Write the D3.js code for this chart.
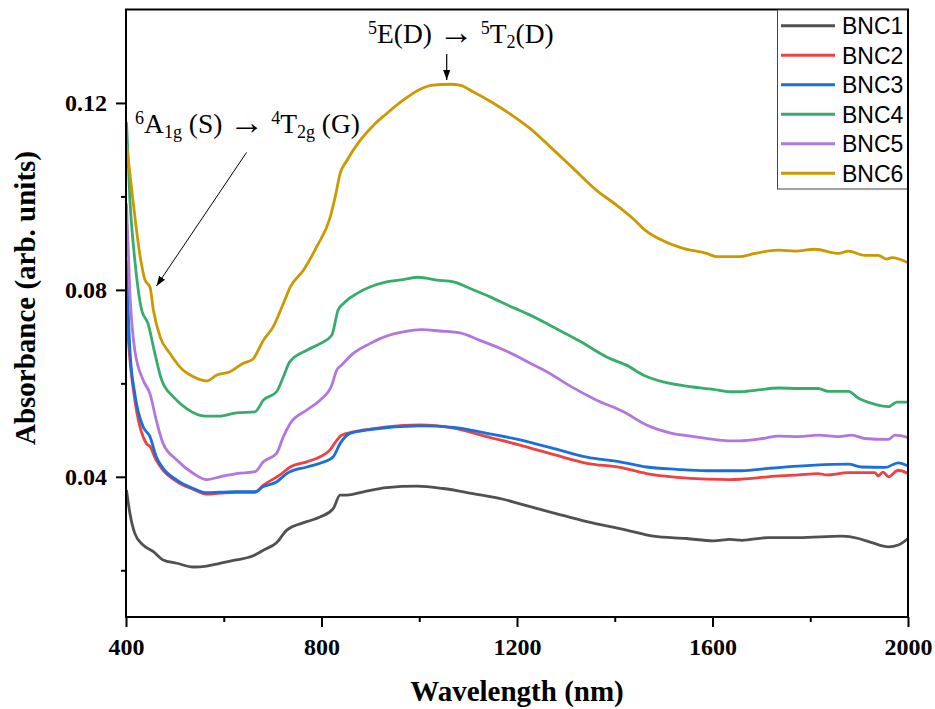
<!DOCTYPE html>
<html>
<head>
<meta charset="utf-8">
<script src="https://cdn.jsdelivr.net/npm/d3@7"></script>
<style>
  html, body { margin: 0; padding: 0; background: #fff; }
  svg { display: block; }
</style>
</head>
<body>
<svg id="chart" width="935" height="709"></svg>
<script>
// ---------- data ----------
const seriesNames = ["BNC1", "BNC2", "BNC3", "BNC4", "BNC5", "BNC6"];
const seriesColors = ["#515151", "#F14040", "#1A6FDF", "#37AD6B", "#B177DE", "#CC9900"];

const BNC1 = [[401,0.0372],[408,0.0322],[418,0.0279],[435,0.0254],[456,0.0240],[476,0.0222],[504,0.0215],[538,0.0207],[565,0.0209],[592,0.0215],[626,0.0222],[660,0.0231],[681,0.0243],[708,0.0259],[729,0.0286],[770,0.0304],[797,0.0314],[824,0.0332],[838,0.0361],[852,0.0361],[886,0.0368],[933,0.0377],[995,0.0380],[1049,0.0375],[1110,0.0364],[1172,0.0352],[1206,0.0342],[1227,0.0336],[1274,0.0323],[1343,0.0304],[1424,0.0286],[1479,0.0273],[1547,0.0268],[1602,0.0263],[1636,0.0266],[1660,0.0264],[1714,0.0270],[1776,0.0270],[1864,0.0273],[1899,0.0268],[1926,0.0259],[1960,0.0250],[1980,0.0254],[2000,0.0268]];

const BNC2 = [[401,0.0750],[408,0.0650],[418,0.0565],[442,0.0471],[449,0.0465],[462,0.0435],[476,0.0414],[504,0.0390],[538,0.0373],[565,0.0363],[592,0.0365],[626,0.0367],[664,0.0367],[681,0.0382],[715,0.0404],[736,0.0421],[770,0.0432],[797,0.0443],[817,0.0457],[831,0.0478],[841,0.0489],[865,0.0496],[899,0.0502],[933,0.0507],[1001,0.0511],[1070,0.0504],[1138,0.0486],[1206,0.0468],[1274,0.0448],[1343,0.0429],[1411,0.0420],[1465,0.0407],[1527,0.0399],[1588,0.0395],[1636,0.0394],[1660,0.0395],[1714,0.0400],[1776,0.0404],[1816,0.0407],[1833,0.0404],[1878,0.0409],[1932,0.0409],[1939,0.0402],[1949,0.0410],[1960,0.0400],[1980,0.0414],[2000,0.0407]];

const BNC3 = [[401,0.0863],[408,0.0671],[418,0.0578],[435,0.0507],[449,0.0486],[462,0.0443],[476,0.0418],[504,0.0393],[538,0.0375],[565,0.0366],[592,0.0367],[626,0.0368],[664,0.0368],[681,0.0379],[708,0.0389],[729,0.0407],[770,0.0421],[797,0.0429],[824,0.0443],[838,0.0471],[858,0.0493],[899,0.0501],[1001,0.0509],[1070,0.0506],[1138,0.0493],[1206,0.0479],[1274,0.0461],[1343,0.0442],[1411,0.0432],[1465,0.0421],[1527,0.0416],[1588,0.0413],[1636,0.0413],[1660,0.0413],[1714,0.0418],[1776,0.0423],[1810,0.0425],[1878,0.0427],[1905,0.0421],[1953,0.0420],[1980,0.0430],[2000,0.0423]];

const BNC4 = [[401,0.1159],[408,0.0992],[418,0.0864],[432,0.0757],[445,0.0728],[459,0.0664],[473,0.0607],[497,0.0571],[524,0.0546],[562,0.0530],[592,0.0530],[626,0.0537],[664,0.0539],[681,0.0564],[708,0.0582],[722,0.0614],[735,0.0646],[770,0.0671],[797,0.0685],[821,0.0703],[834,0.0757],[845,0.0771],[872,0.0792],[899,0.0806],[933,0.0817],[967,0.0822],[998,0.0827],[1036,0.0821],[1070,0.0817],[1104,0.0803],[1145,0.0785],[1186,0.0765],[1206,0.0756],[1227,0.0746],[1268,0.0724],[1329,0.0690],[1390,0.0653],[1424,0.0639],[1458,0.0618],[1499,0.0603],[1547,0.0594],[1602,0.0587],[1636,0.0582],[1655,0.0582],[1687,0.0585],[1735,0.0590],[1776,0.0589],[1816,0.0589],[1837,0.0583],[1878,0.0583],[1899,0.0568],[1926,0.0557],[1960,0.0550],[1977,0.0560],[2000,0.0560]];

const BNC5 = [[401,0.0985],[408,0.0792],[418,0.0671],[435,0.0607],[449,0.0578],[462,0.0521],[476,0.0471],[504,0.0436],[538,0.0407],[565,0.0394],[592,0.0400],[626,0.0407],[664,0.0411],[681,0.0432],[708,0.0450],[722,0.0486],[736,0.0514],[770,0.0543],[797,0.0564],[821,0.0596],[831,0.0628],[841,0.0639],[865,0.0664],[899,0.0685],[933,0.0701],[967,0.0710],[1005,0.0715],[1042,0.0712],[1083,0.0708],[1124,0.0692],[1165,0.0675],[1206,0.0655],[1227,0.0643],[1261,0.0625],[1309,0.0594],[1363,0.0564],[1418,0.0539],[1465,0.0511],[1513,0.0494],[1561,0.0486],[1609,0.0479],[1636,0.0477],[1655,0.0477],[1703,0.0482],[1735,0.0487],[1776,0.0486],[1816,0.0489],[1858,0.0486],[1885,0.0489],[1912,0.0482],[1960,0.0480],[1973,0.0489],[2000,0.0484]];

const BNC6 = [[401,0.1113],[415,0.0985],[429,0.0871],[439,0.0821],[449,0.0806],[456,0.0757],[470,0.0699],[490,0.0664],[517,0.0628],[538,0.0614],[565,0.0605],[586,0.0618],[613,0.0625],[640,0.0643],[660,0.0652],[667,0.0664],[681,0.0692],[701,0.0721],[722,0.0771],[736,0.0806],[763,0.0842],[790,0.0892],[817,0.0953],[828,0.0999],[838,0.1049],[852,0.1077],[879,0.1120],[906,0.1152],[933,0.1177],[967,0.1206],[1001,0.1229],[1028,0.1238],[1063,0.1240],[1083,0.1238],[1110,0.1224],[1151,0.1200],[1192,0.1172],[1226,0.1146],[1268,0.1106],[1315,0.1060],[1363,0.1013],[1404,0.0981],[1441,0.0949],[1462,0.0928],[1499,0.0905],[1540,0.0889],[1588,0.0878],[1609,0.0871],[1636,0.0871],[1655,0.0871],[1687,0.0878],[1735,0.0885],[1769,0.0883],[1810,0.0887],[1858,0.0878],[1878,0.0883],[1912,0.0874],[1939,0.0874],[1956,0.0866],[1967,0.0869],[2000,0.0858]];

const xMajorTicks = [400, 800, 1200, 1600, 2000];
const xMinorTicks = [600, 1000, 1400, 1800];
const yMajorTicks = [0.04, 0.08, 0.12];
const yMinorTicks = [0.02, 0.06, 0.10];
const xTitle = "Wavelength (nm)";
const yTitle = "Absorbance (arb. units)";

// ---------- drawing ----------
const allSeries = [BNC1, BNC2, BNC3, BNC4, BNC5, BNC6];
const svg = d3.select("#chart");
const L = 126, R = 908, T = 9.5, B = 617;
const x = d3.scaleLinear().domain([400, 2000]).range([L, R]);
const y = d3.scaleLinear().domain([0.01, 0.14]).range([B, T]);

const serif = "'Liberation Serif','Times New Roman',serif";
const sans = "'Liberation Sans',Arial,sans-serif";

svg.append("defs").append("clipPath").attr("id", "clip")
  .append("rect").attr("x", L).attr("y", T).attr("width", R - L).attr("height", B - T);

const line = d3.line().x(d => x(d[0])).y(d => y(d[1])).curve(d3.curveMonotoneX);
const gLines = svg.append("g").attr("clip-path", "url(#clip)");
allSeries.forEach((s, i) => {
  gLines.append("path").datum(s)
    .attr("d", line)
    .attr("fill", "none")
    .attr("stroke", seriesColors[i])
    .attr("stroke-width", 2.8)
    .attr("stroke-linejoin", "round");
});

// frame
svg.append("rect").attr("x", L).attr("y", T).attr("width", R - L).attr("height", B - T)
  .attr("fill", "none").attr("stroke", "#000").attr("stroke-width", 2);

// axes
function styleAxis(g, fs) {
  g.select(".domain").remove();
  g.selectAll(".tick line").attr("stroke", "#000").attr("stroke-width", 2);
  g.selectAll(".tick text").attr("font-family", serif).attr("font-weight", "bold")
    .attr("font-size", fs).attr("fill", "#000");
}
const gx = svg.append("g").attr("transform", `translate(0,${B})`)
  .call(d3.axisBottom(x).tickValues(xMajorTicks).tickSize(10).tickPadding(11).tickFormat(d3.format("d")));
styleAxis(gx, 24);
const gxm = svg.append("g").attr("transform", `translate(0,${B})`)
  .call(d3.axisBottom(x).tickValues(xMinorTicks).tickSize(5).tickFormat(""));
styleAxis(gxm, 24);
const gy = svg.append("g").attr("transform", `translate(${L},0)`)
  .call(d3.axisLeft(y).tickValues(yMajorTicks).tickSize(10).tickPadding(9).tickFormat(d3.format(".2f")));
styleAxis(gy, 24);
const gym = svg.append("g").attr("transform", `translate(${L},0)`)
  .call(d3.axisLeft(y).tickValues(yMinorTicks).tickSize(5).tickFormat(""));
styleAxis(gym, 24);

// axis titles
svg.append("text").attr("x", (L + R) / 2).attr("y", 701).attr("text-anchor", "middle")
  .attr("font-family", serif).attr("font-weight", "bold").attr("font-size", 29).text(xTitle);
svg.append("text").attr("transform", "translate(35,298) rotate(-90)").attr("text-anchor", "middle")
  .attr("font-family", serif).attr("font-weight", "bold").attr("font-size", 29).text(yTitle);

// legend
const lg = svg.append("g");
lg.append("rect").attr("x", 777.5).attr("y", 10).attr("width", 130).attr("height", 179)
  .attr("fill", "#fff").attr("stroke", "#444").attr("stroke-width", 1);
seriesNames.forEach((n, i) => {
  const cy = 25.7 + i * 29.5;
  lg.append("line").attr("x1", 781).attr("x2", 835).attr("y1", cy).attr("y2", cy)
    .attr("stroke", seriesColors[i]).attr("stroke-width", 3);
  lg.append("text").attr("x", 842).attr("y", cy + 8.3).attr("font-family", sans)
    .attr("font-size", 23).attr("fill", "#000").text(n);
});
svg.append("line").attr("x1", R).attr("x2", R).attr("y1", T).attr("y2", B)
  .attr("stroke", "#000").attr("stroke-width", 2);

// annotations
const defs = svg.select("defs");
defs.append("marker").attr("id", "ah").attr("viewBox", "0 0 10 10").attr("refX", 10).attr("refY", 5)
  .attr("markerWidth", 10).attr("markerHeight", 10).attr("markerUnits", "userSpaceOnUse")
  .attr("orient", "auto")
  .append("path").attr("d", "M0,1.5 L10,5 L0,8.5 Z").attr("fill", "#000");

function richText(xp, yp, parts) {
  const t = svg.append("text").attr("x", xp).attr("y", yp).attr("font-family", serif)
    .attr("font-size", 27.5).attr("fill", "#000");
  let shift = 0;
  parts.forEach(p => {
    const ts = t.append("tspan").text(p.t);
    let target = 0;
    if (p.k === "sup") { ts.attr("font-size", 18); target = -9; }
    else if (p.k === "sub") { ts.attr("font-size", 18); target = 5; }
    else if (p.k === "arrow") { ts.attr("font-size", 35); target = 1; }
    ts.attr("dy", target - shift);
    shift = target;
  });
}
richText(135, 133, [
  {t: "6", k: "sup"}, {t: "A"}, {t: "1g", k: "sub"}, {t: " (S) "}, {t: "\u2192", k: "arrow"}, {t: " "},
  {t: "4", k: "sup"}, {t: "T"}, {t: "2g", k: "sub"}, {t: " (G)"}
]);
richText(368, 43, [
  {t: "5", k: "sup"}, {t: "E(D) "}, {t: "\u2192", k: "arrow"}, {t: " "},
  {t: "5", k: "sup"}, {t: "T"}, {t: "2", k: "sub"}, {t: "(D)"}
]);

svg.append("line").attr("x1", 246.5).attr("y1", 152.5).attr("x2", 156.5).attr("y2", 286)
  .attr("stroke", "#000").attr("stroke-width", 1).attr("marker-end", "url(#ah)");
svg.append("line").attr("x1", 446.7).attr("y1", 54).attr("x2", 446.7).attr("y2", 80)
  .attr("stroke", "#000").attr("stroke-width", 1.2).attr("marker-end", "url(#ah)");
</script>
</body>
</html>
